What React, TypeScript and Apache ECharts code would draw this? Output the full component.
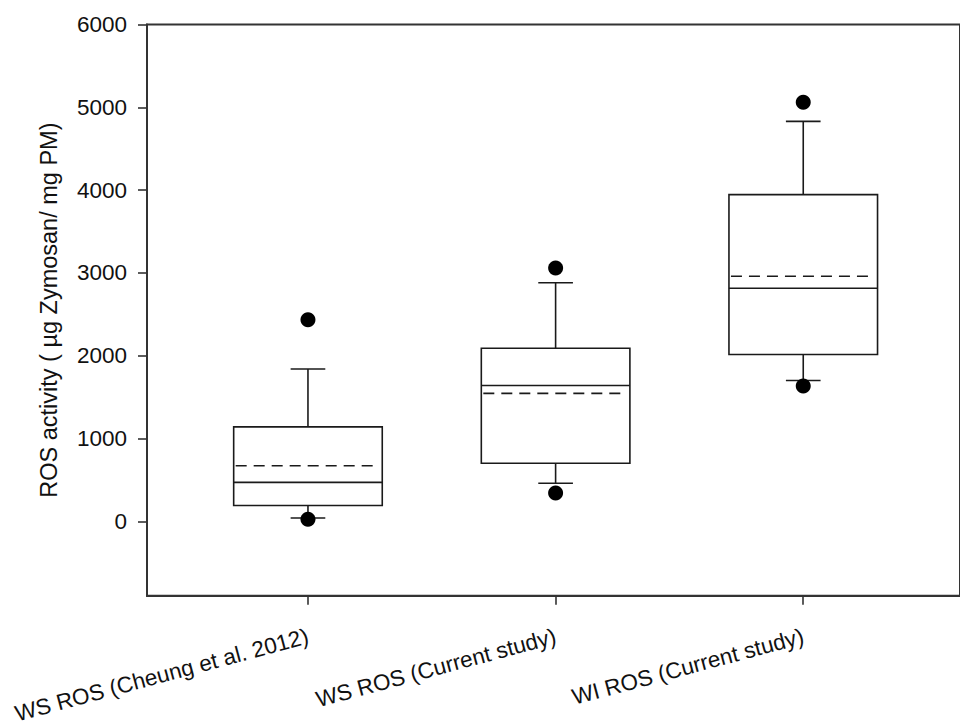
import React, { useEffect, useRef } from "react";
import * as echarts from "echarts";

const categories = ["WS ROS (Cheung et al. 2012)", "WS ROS (Current study)", "WI ROS (Current study)"];
const whiskerLow = [40, 460, 1700];
const q1 = [190, 700, 2015];
const median = [470, 1640, 2815];
const mean = [670, 1545, 2960];
const q3 = [1140, 2090, 3945];
const whiskerHigh = [1840, 2880, 4830];
const outlierLow = [25, 340, 1635];
const outlierHigh = [2435, 3060, 5060];
const yTicks = [0, 1000, 2000, 3000, 4000, 5000, 6000];
const xTicks = [1, 2, 3];

const FONT = "'Liberation Sans', Arial, sans-serif";
const INK = "#1a1a1a";

export default function App() {
  const ref = useRef<HTMLDivElement>(null);
  useEffect(() => {
    if (!ref.current) return;
    const chart = echarts.init(ref.current, null, { renderer: "svg" });
    const boxData = categories.map((_, i) => [
      i + 1,
      whiskerLow[i],
      q1[i],
      median[i],
      mean[i],
      q3[i],
      whiskerHigh[i],
    ]);
    const outliers: number[][] = [];
    categories.forEach((_, i) => {
      outliers.push([i + 1, outlierLow[i]]);
      outliers.push([i + 1, outlierHigh[i]]);
    });
    const lineStyle = { stroke: INK, lineWidth: 1.6, fill: "none" };
    chart.setOption({
      animation: false,
      backgroundColor: "#ffffff",
      grid: {
        left: 147,
        right: -6,
        top: 24.5,
        bottom: 126,
        show: true,
        borderColor: "#333",
        borderWidth: 2,
        backgroundColor: "transparent",
      },
      xAxis: {
        type: "value",
        min: 0.35,
        max: 3.633,
        splitLine: { show: false },
        axisLine: { show: true, onZero: false, lineStyle: { color: "#333", width: 2 } },
        axisTick: {
          show: true,
          length: 9,
          inside: false,
          customValues: xTicks,
          lineStyle: { color: "#333", width: 1.6 },
        },
        axisLabel: {
          customValues: xTicks,
          formatter: (v: number) => categories[Math.round(v) - 1] ?? "",
          rotate: 15,
          margin: 40,
          fontSize: 22.5,
          fontFamily: FONT,
          color: "#111",
        },
      },
      yAxis: {
        type: "value",
        min: -900,
        max: 6000,
        name: "ROS activity ( µg Zymosan/ mg PM)",
        nameLocation: "middle",
        nameGap: 86,
        nameTextStyle: { fontSize: 23.5, fontFamily: FONT, color: "#111" },
        splitLine: { show: false },
        axisLine: { show: true, onZero: false, lineStyle: { color: "#333", width: 2 } },
        axisTick: {
          show: true,
          length: 9,
          inside: false,
          customValues: yTicks,
          lineStyle: { color: "#333", width: 1.6 },
        },
        axisLabel: {
          customValues: yTicks,
          formatter: (v: number) => String(v),
          margin: 20,
          fontSize: 22.5,
          fontFamily: FONT,
          color: "#111",
        },
      },
      series: [
        {
          type: "custom",
          clip: false,
          data: boxData,
          renderItem: (params: any, api: any) => {
            const x = api.value(0);
            const pLow = api.coord([x, api.value(1)]);
            const pQ1 = api.coord([x, api.value(2)]);
            const pMed = api.coord([x, api.value(3)]);
            const pMean = api.coord([x, api.value(4)]);
            const pQ3 = api.coord([x, api.value(5)]);
            const pHigh = api.coord([x, api.value(6)]);
            const halfW = api.size([0.6, 0])[0] / 2;
            const capHalf = api.size([0.14, 0])[0] / 2;
            const cx = pQ1[0];
            return {
              type: "group",
              children: [
                {
                  type: "rect",
                  shape: { x: cx - halfW, y: pQ3[1], width: halfW * 2, height: pQ1[1] - pQ3[1] },
                  style: { ...lineStyle, fill: "none" },
                },
                {
                  type: "line",
                  shape: { x1: cx - halfW, y1: pMed[1], x2: cx + halfW, y2: pMed[1] },
                  style: lineStyle,
                },
                {
                  type: "line",
                  shape: { x1: cx - halfW + 2, y1: pMean[1], x2: cx + halfW - 4, y2: pMean[1] },
                  style: { ...lineStyle, lineDash: [11, 7] },
                },
                {
                  type: "line",
                  shape: { x1: cx, y1: pQ3[1], x2: cx, y2: pHigh[1] },
                  style: lineStyle,
                },
                {
                  type: "line",
                  shape: { x1: cx - capHalf, y1: pHigh[1], x2: cx + capHalf, y2: pHigh[1] },
                  style: lineStyle,
                },
                {
                  type: "line",
                  shape: { x1: cx, y1: pQ1[1], x2: cx, y2: pLow[1] },
                  style: lineStyle,
                },
                {
                  type: "line",
                  shape: { x1: cx - capHalf, y1: pLow[1], x2: cx + capHalf, y2: pLow[1] },
                  style: lineStyle,
                },
              ],
            };
          },
        },
        {
          type: "scatter",
          data: outliers,
          symbol: "circle",
          symbolSize: 15,
          itemStyle: { color: "#000", opacity: 1 },
          z: 5,
        },
      ],
    });
    return () => chart.dispose();
  }, []);
  return <div ref={ref} style={{ width: 960, height: 726, position: "absolute", left: 0, top: 0 }} />;
}
